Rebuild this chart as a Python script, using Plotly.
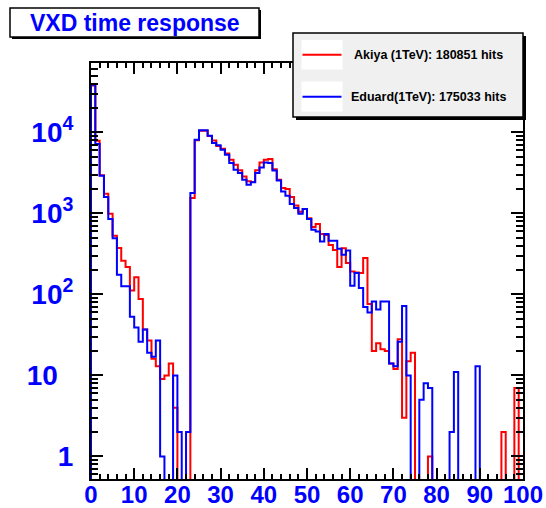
import plotly.graph_objects as go

# ---------------- data ----------------
bin_edges = list(range(0, 101))

akiya_counts = [
    38000, 7910, 2950, 1750, 990, 531, 374, 261, 218, 112,
    163, 88, 37, 27, 16, 13, 9, 10, 14, 4,
    0, 0, 0, 1550, 8000, 10500, 10500, 9000, 7950, 6800,
    6300, 5500, 4600, 3990, 3400, 2860, 2500, 2450, 3400, 4265,
    4600, 4690, 3500, 2600, 2060, 2000, 1590, 1250, 1050, 1130,
    870, 680, 740, 556, 540, 408, 353, 218, 372, 244,
    192, 187, 184, 281, 76, 20, 25, 21, 20, 14,
    12, 28, 3, 15, 19, 0, 0, 0, 1, 0,
    0, 0, 0, 0, 0, 0, 0, 0, 0, 0,
    0, 0, 0, 0, 0, 2, 0, 0, 7, 0,
]

eduard_counts = [
    38800, 7190, 2920, 1590, 855, 495, 175, 126, 126, 53,
    39, 26, 37, 19, 17, 27, 1, 0, 0, 10,
    2, 0, 2, 1790, 8130, 10600, 10600, 9100, 7390, 6920,
    6110, 5300, 4190, 3470, 3160, 2600, 2260, 2420, 3160, 3700,
    4260, 4190, 3390, 2550, 1870, 1650, 1306, 1165, 991, 1133,
    851, 630, 600, 450, 555, 460, 460, 367, 309, 349,
    128, 184, 120, 70, 60, 82, 65, 82, 82, 14,
    13, 26, 72, 10, 0, 0, 5, 8, 7, 0,
    0, 0, 0, 2, 11, 0, 0, 0, 0, 13,
    0, 0, 0, 0, 0, 0, 0, 0, 0, 0,
]

series_names = ["Akiya (1TeV): 180851 hits", "Eduard(1TeV): 175033 hits"]
series_colors = ["#ff0000", "#0000ff"]
chart_title = "VXD time response"

x_tick_vals = [0, 10, 20, 30, 40, 50, 60, 70, 80, 90, 100]
x_tick_text = ["0", "10", "20", "30", "40", "50", "60", "70", "80", "90", "100"]
y_tick_vals = [1, 10, 100, 1000, 10000]
y_tick_text = ["1", "10\u00a0\u00a0", "10<sup>2</sup>", "10<sup>3</sup>", "10<sup>4</sup>"]

# ---------------- layout geometry ----------------
W, H = 546, 508
ML, MR, MT, MB = 91, 23, 63, 29
PW, PH = W - ML - MR, H - MT - MB
Y_RANGE = [-0.279, 4.857]


def px2x(px):
    return (px - ML) / PW


def py2y(py):
    return (H - MB - py) / PH


FONT = "Liberation Sans, Arial, Helvetica, sans-serif"

fig = go.Figure()

floor_val = 10 ** (Y_RANGE[0] - 1.0)
for counts, name, color in zip([akiya_counts, eduard_counts], series_names, series_colors):
    yv = [c if c > 0 else floor_val for c in counts]
    xs = [bin_edges[0]] + bin_edges[:-1] + [bin_edges[-1], bin_edges[-1]]
    ys = [floor_val] + yv + [yv[-1], floor_val]
    fig.add_trace(go.Scatter(
        x=xs, y=ys, mode="lines", name=name, showlegend=False,
        line=dict(color=color, width=2, shape="hv"), hoverinfo="skip",
    ))

x_minor = [v for v in range(0, 101, 2) if v % 10 != 0]
y_minor = []
for dec in [0.1, 1, 10, 100, 1000, 10000]:
    for m in range(2, 10):
        v = m * dec
        if 10 ** Y_RANGE[0] <= v <= 10 ** Y_RANGE[1]:
            y_minor.append(v)

fig.update_xaxes(
    range=[0, 100], showgrid=False, zeroline=False, automargin=False,
    showline=True, linecolor="black", linewidth=2, mirror="allticks",
    ticks="inside", ticklen=11, tickwidth=1.5, tickcolor="black",
    tickmode="array", tickvals=x_tick_vals, ticktext=x_tick_text,
    tickfont=dict(family=FONT, size=24, color="#0000ff", weight="bold"),
    ticklabelstandoff=-7,
    minor=dict(tickmode="array", tickvals=x_minor, ticks="inside",
               ticklen=5, tickwidth=1.5, tickcolor="black", showgrid=False),
)
fig.update_yaxes(
    type="log", range=Y_RANGE, showgrid=False, zeroline=False, automargin=False,
    showline=True, linecolor="black", linewidth=2, mirror="allticks",
    ticks="inside", ticklen=12, tickwidth=1.5, tickcolor="black",
    tickmode="array", tickvals=y_tick_vals, ticktext=y_tick_text,
    tickfont=dict(family=FONT, size=28, color="#0000ff", weight="bold"),
    ticklabelstandoff=10,
    minor=dict(tickmode="array", tickvals=y_minor, ticks="inside",
               ticklen=7, tickwidth=1.5, tickcolor="black", showgrid=False),
)

shapes = []
annotations = []

# title box with shadow
shapes.append(dict(type="rect", xref="paper", yref="paper", layer="above",
                   x0=px2x(12), x1=px2x(261), y0=py2y(10), y1=py2y(39),
                   fillcolor="black", line=dict(width=0)))
shapes.append(dict(type="rect", xref="paper", yref="paper", layer="above",
                   x0=px2x(10), x1=px2x(259), y0=py2y(8), y1=py2y(37),
                   fillcolor="white", line=dict(color="black", width=1.5)))
annotations.append(dict(xref="paper", yref="paper", x=px2x(134.5), y=py2y(23),
                        text=chart_title, showarrow=False, xanchor="center", yanchor="middle",
                        font=dict(family=FONT, size=23, color="#0000ff", weight="bold")))

# legend box with shadow
shapes.append(dict(type="rect", xref="paper", yref="paper", layer="above",
                   x0=px2x(296), x1=px2x(526), y0=py2y(36), y1=py2y(120),
                   fillcolor="black", line=dict(width=0)))
shapes.append(dict(type="rect", xref="paper", yref="paper", layer="above",
                   x0=px2x(293), x1=px2x(523), y0=py2y(33), y1=py2y(117),
                   fillcolor="#f0f0f0", line=dict(color="black", width=1.5)))
entry_rows = [(40, 69.5, 54.7), (81.5, 111.5, 96.7)]
for (t, b, mid), name, color in zip(entry_rows, series_names, series_colors):
    shapes.append(dict(type="rect", xref="paper", yref="paper", layer="above",
                       x0=px2x(301.5), x1=px2x(342.5), y0=py2y(t), y1=py2y(b),
                       fillcolor="white", line=dict(width=0)))
    shapes.append(dict(type="line", xref="paper", yref="paper", layer="above",
                       x0=px2x(302.5), x1=px2x(341.5), y0=py2y(mid), y1=py2y(mid),
                       line=dict(color=color, width=2)))
    annotations.append(dict(xref="paper", yref="paper", x=px2x(428), y=py2y(mid),
                            text=name, showarrow=False, xanchor="center", yanchor="middle",
                            font=dict(family=FONT, size=12.5, color="black", weight="bold")))

fig.update_layout(
    width=W, height=H, autosize=False,
    margin=dict(l=ML, r=MR, t=MT, b=MB, pad=0),
    paper_bgcolor="white", plot_bgcolor="white",
    shapes=shapes, annotations=annotations, showlegend=False,
)

fig.write_html("out.html")
